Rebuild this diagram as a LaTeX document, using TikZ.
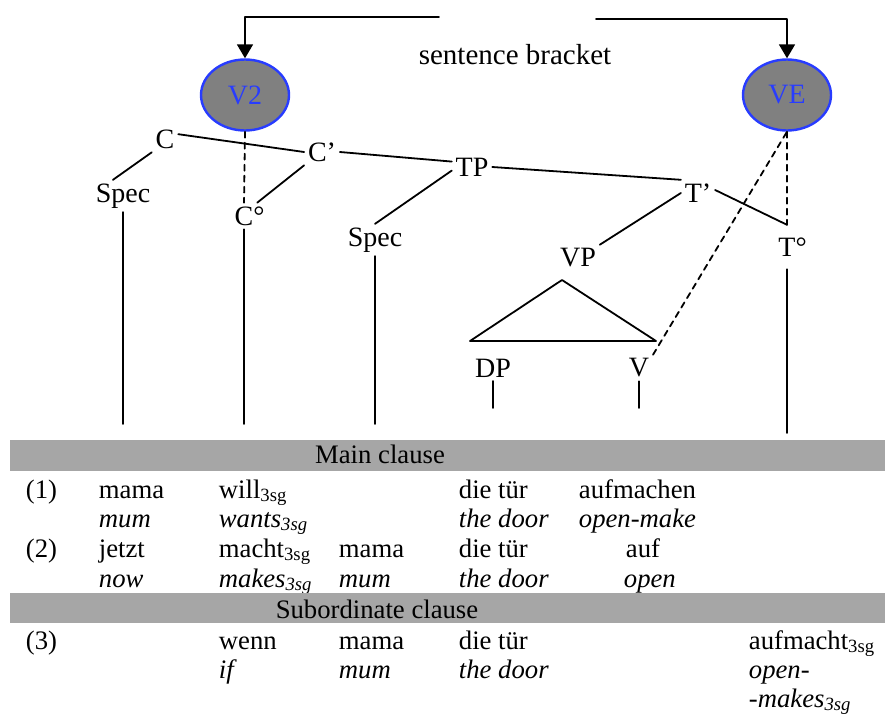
\documentclass[tikz,border=0pt]{standalone}
\usepackage{fontspec}
\setmainfont{Liberation Serif}
\usepackage{tikz}
\usetikzlibrary{arrows.meta}
\usetikzlibrary{shapes.geometric}
\definecolor{vblue}{RGB}{40,60,255}
\definecolor{vgray}{RGB}{128,128,128}
\definecolor{bargray}{RGB}{166,166,166}
\tikzset{
  lbl/.style={inner sep=3pt,font=\fontsize{28}{32}\selectfont},
  verb/.style={ellipse,draw=vblue,fill=vgray,line width=2.4pt,text=vblue,
    minimum width=88pt,minimum height=71pt,inner sep=0pt,font=\fontsize{28}{32}\selectfont},
  tab/.style={anchor=base west,inner sep=0pt,font=\fontsize{26.7}{30}\selectfont},
  gl/.style={anchor=base west,inner sep=0pt,font=\fontsize{26.7}{30}\selectfont\itshape},
  head/.style={anchor=base,inner sep=0pt,font=\fontsize{26.7}{30}\selectfont},
  trace/.style={line width=1.8pt,dash pattern=on 6pt off 5pt}
}
\begin{document}
\begin{tikzpicture}[line cap=round,line join=round,>={Triangle[width=16pt,length=14pt]},x=1pt,y=-1pt,line width=1.8pt]
\useasboundingbox (0,0) rectangle (885,715);
% sentence bracket
\node[verb] (V2) at (245,95) {V2};
\node[verb] (VE) at (787,95) {VE};
\node[lbl,font=\fontsize{29}{32}\selectfont] (brk) at (515,55) {sentence bracket};
\coordinate (brL) at (439,17);
\coordinate (brR) at (596,19);
\draw [->] (brL) -| (V2.north);
\draw [->] (brR) -| (VE.north);
% tree
\node[lbl] (C) at (165,139) {C};
\node[lbl] (Cbar) at (322,152) {C’};
\node[lbl] (TP) at (472,167) {TP};
\node[lbl] (Tbar) at (698,193) {T’};
\node[lbl] (SpecC) at (123,196) {Spec};
\node[lbl] (Czero) at (244,216) {C\rlap{°}};
\node[lbl] (SpecT) at (375,240) {Spec};
\node[lbl,inner ysep=12pt] (Tzero) at (787,247) {T\rlap{°}};
\node[lbl] (VP) at (578,258) {VP};
\node[lbl] (DP) at (493,368) {DP};
\node[lbl] (V) at (639,368) {V};
\coordinate (foot) at (0,424);
\coordinate (footT) at (0,433);
\coordinate (tick) at (0,408);
\draw (C.20) -- (Cbar.west);
\draw (Cbar.east) -- (TP.165);
\draw (C.south west) -- (SpecC.122);
\draw (Cbar.south west) -- (Czero.north east);
\draw (TP.190) -- (SpecT.north);
\draw (TP.east) -- (Tbar.north west);
\draw (Tbar.west) -- (VP.north east);
\draw (Tbar.10) -- (Tzero.north);
\draw[trace] (V2.south) -- (Czero.north);
\draw[trace] (VE.south) -- (Tzero.north);
\draw[trace] (V.north east) -- (VE.south);
% VP triangle
\coordinate (apex) at (562,280);
\coordinate (baseL) at (470,341);
\coordinate (baseR) at (656,341);
\draw (apex) -- (baseL) -- (baseR) -- cycle;
% lines down to the examples
\draw (SpecC.south) -- (SpecC.south |- foot);
\draw (Czero.south) -- (Czero.south |- foot);
\draw (SpecT.south) -- (SpecT.south |- foot);
\draw (Tzero.south) -- (Tzero.south |- footT);
\draw (DP.south) -- (DP.south |- tick);
\draw (V.south) -- (V.south |- tick);
% examples
\fill[bargray] (10,440) rectangle (885,471);
\node[head] (mainh) at (380,463) {Main clause};
\node[tab] (n1) at (25,498) {(1)};
\node[tab] (a1) at (98,498) {mama};
\node[tab] (b1) at (218,498) {will\textsubscript{3sg}};
\node[tab] (d1) at (458,498) {die tür};
\node[tab] (e1) at (578,498) {aufmachen};
\node[gl] (a1g) at (98,527) {mum};
\node[gl] (b1g) at (218,527) {wants\textsubscript{3sg}};
\node[gl] (d1g) at (458,527) {the door};
\node[gl] (e1g) at (578,527) {open-make};
\node[tab] (n2) at (25,557) {(2)};
\node[tab] (a2) at (98,557) {jetzt};
\node[tab] (b2) at (218,557) {macht\textsubscript{3sg}};
\node[tab] (c2) at (338,557) {mama};
\node[tab] (d2) at (458,557) {die tür};
\node[tab] (e2) at (625,557) {auf};
\node[gl] (a2g) at (98,587) {now};
\node[gl] (b2g) at (218,587) {makes\textsubscript{3sg}};
\node[gl] (c2g) at (338,587) {mum};
\node[gl] (d2g) at (458,587) {the door};
\node[gl] (e2g) at (623,587) {open};
\fill[bargray] (10,593) rectangle (885,623);
\node[head] (subh) at (377,618) {Subordinate clause};
\node[tab] (n3) at (25,649) {(3)};
\node[tab] (b3) at (218,649) {wenn};
\node[tab] (c3) at (338,649) {mama};
\node[tab] (d3) at (458,649) {die tür};
\node[tab] (f3) at (748,649) {aufmacht\textsubscript{3sg}};
\node[gl] (b3g) at (218,678) {if};
\node[gl] (c3g) at (338,678) {mum};
\node[gl] (d3g) at (458,678) {the door};
\node[gl] (f3g) at (748,678) {open-};
\node[gl] (f3h) at (748,707) {-makes\textsubscript{3sg}};
\end{tikzpicture}
\end{document}
